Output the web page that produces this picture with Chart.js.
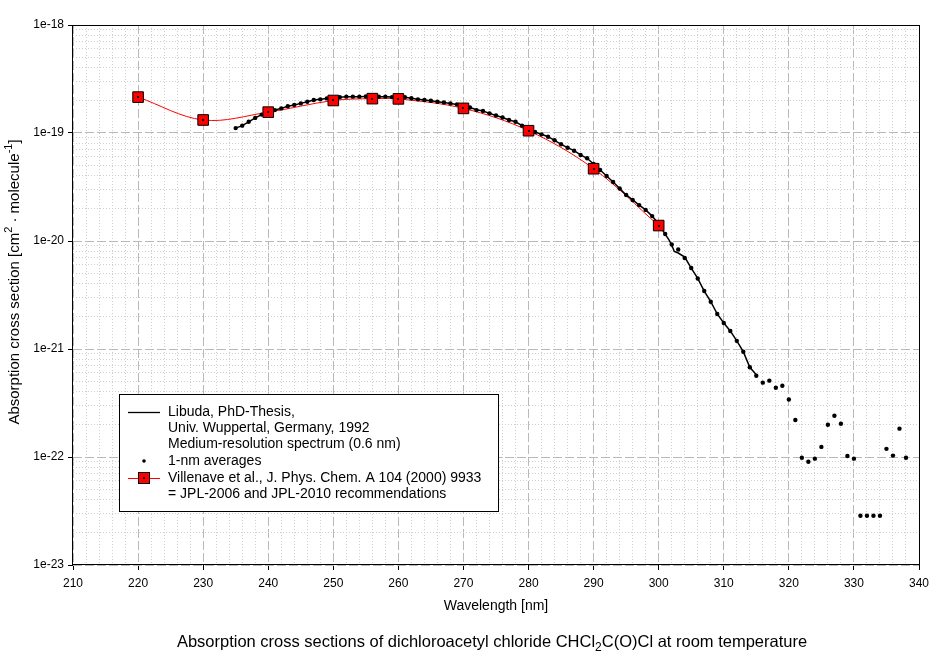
<!DOCTYPE html>
<html>
<head>
<meta charset="utf-8">
<title>Dichloroacetyl chloride absorption cross sections</title>
<script src="https://cdn.jsdelivr.net/npm/chart.js@4.4.1/dist/chart.umd.min.js"></script>
<style>
    html, body { margin: 0; padding: 0; background: #fff; }
    #chart { display: block; }
</style>
</head>
<body>
<canvas id="chart" width="944" height="660"></canvas>
<script>
/**
 * Absorption cross sections of CHCl2C(O)Cl
 * Log-scale spectrum drawn with Chart.js
 */

const FONT = '"Liberation Sans", Arial, sans-serif';

// Axis tick labels
const xTickLabels = [210, 220, 230, 240, 250, 260, 270, 280, 290, 300, 310, 320, 330, 340];
const yTickLabels = ['1e-23', '1e-22', '1e-21', '1e-20', '1e-19', '1e-18'];

// Villenave et al., J. Phys. Chem. A 104 (2000) 9933
const villenaveWl = [220, 230, 240, 250, 256, 260, 270, 280, 290, 300];
const villenaveSigma = [2.15e-19, 1.32e-19, 1.56e-19, 2.00e-19, 2.08e-19, 2.07e-19, 1.69e-19, 1.05e-19, 4.67e-20, 1.39e-20];

// Libuda, 1-nm averages
const avgWl = [
    235, 236, 237, 238, 239, 240, 241, 242, 243, 244, 245, 246, 247, 248, 249,
    250, 251, 252, 253, 254, 255, 256, 257, 258, 259, 260, 261, 262, 263, 264,
    265, 266, 267, 268, 269, 270, 271, 272, 273, 274, 275, 276, 277, 278, 279,
    280, 281, 282, 283, 284, 285, 286, 287, 288, 289, 290, 291, 292, 293, 294,
    295, 296, 297, 298, 299, 300, 301, 302, 303, 304, 305, 306, 307, 308, 309,
    310, 311, 312, 313, 314, 315, 316, 317, 318, 319, 320, 321, 322, 323, 324,
    325, 326, 327, 328, 329, 330, 331, 332, 333, 334, 335, 336, 337, 338
];
const avgSigma = [
    1.11e-19, 1.17e-19, 1.27e-19, 1.38e-19, 1.48e-19, 1.57e-19, 1.63e-19, 1.69e-19, 1.77e-19, 1.82e-19,
    1.88e-19, 1.95e-19, 2.02e-19, 2.05e-19, 2.09e-19, 2.11e-19, 2.14e-19, 2.17e-19, 2.17e-19, 2.17e-19,
    2.18e-19, 2.18e-19, 2.17e-19, 2.17e-19, 2.15e-19, 2.15e-19, 2.14e-19, 2.10e-19, 2.05e-19, 2.02e-19,
    1.99e-19, 1.95e-19, 1.92e-19, 1.88e-19, 1.84e-19, 1.78e-19, 1.72e-19, 1.63e-19, 1.60e-19, 1.52e-19,
    1.45e-19, 1.39e-19, 1.32e-19, 1.27e-19, 1.17e-19, 1.09e-19, 1.02e-19, 9.72e-20, 9.24e-20, 8.56e-20,
    7.86e-20, 7.31e-20, 6.86e-20, 6.26e-20, 5.83e-20, 5.16e-20, 4.54e-20, 4.00e-20, 3.52e-20, 3.06e-20,
    2.67e-20, 2.40e-20, 2.15e-20, 1.94e-20, 1.70e-20, 1.44e-20, 1.16e-20, 9.28e-21, 8.34e-21, 6.96e-21,
    5.62e-21, 4.50e-21, 3.44e-21, 2.74e-21, 2.11e-21, 1.74e-21, 1.47e-21, 1.19e-21, 9.44e-22, 6.77e-22,
    5.66e-22, 4.88e-22, 5.09e-22, 4.38e-22, 4.57e-22, 3.41e-22, 2.20e-22, 9.85e-23, 9.05e-23, 9.65e-23,
    1.24e-22, 1.99e-22, 2.41e-22, 2.03e-22, 1.02e-22, 9.65e-23, 2.86e-23, 2.86e-23, 2.86e-23, 2.86e-23,
    1.19e-22, 1.03e-22, 1.83e-22, 9.85e-23
];

// Libuda, medium-resolution spectrum (0.6 nm)
const libudaWl = [
    235, 236, 237, 238, 239, 240, 241, 242, 243, 244, 245, 246, 247, 248, 249,
    250, 251, 252, 253, 254, 255, 256, 257, 258, 259, 260, 261, 262, 263, 264,
    265, 266, 267, 268, 269, 270, 271, 272, 273, 274, 275, 276, 277, 278, 279,
    280, 281, 282, 283, 284, 285, 286, 287, 288, 289, 290, 291, 292, 293, 294,
    295, 296, 297, 298, 299, 300, 301, 301.6, 302, 302.4, 303, 304, 305, 306,
    307, 308, 309, 310, 311, 312, 313, 314, 315.2
];
const libudaSigma = [
    1.11e-19, 1.17e-19, 1.27e-19, 1.38e-19, 1.48e-19, 1.57e-19, 1.63e-19, 1.69e-19, 1.77e-19, 1.82e-19,
    1.88e-19, 1.95e-19, 2.02e-19, 2.05e-19, 2.09e-19, 2.11e-19, 2.14e-19, 2.17e-19, 2.17e-19, 2.17e-19,
    2.18e-19, 2.18e-19, 2.17e-19, 2.17e-19, 2.15e-19, 2.15e-19, 2.14e-19, 2.10e-19, 2.05e-19, 2.02e-19,
    1.99e-19, 1.95e-19, 1.92e-19, 1.88e-19, 1.84e-19, 1.78e-19, 1.72e-19, 1.64e-19, 1.60e-19, 1.52e-19,
    1.45e-19, 1.39e-19, 1.32e-19, 1.27e-19, 1.17e-19, 1.09e-19, 1.02e-19, 9.72e-20, 9.24e-20, 8.56e-20,
    7.86e-20, 7.31e-20, 6.86e-20, 6.26e-20, 5.83e-20, 5.16e-20, 4.54e-20, 4.00e-20, 3.52e-20, 3.06e-20,
    2.67e-20, 2.40e-20, 2.15e-20, 1.94e-20, 1.70e-20, 1.44e-20, 1.16e-20, 1.02e-20, 9.18e-21, 8.00e-21,
    7.74e-21, 7.11e-21, 5.62e-21, 4.50e-21, 3.44e-21, 2.74e-21, 2.11e-21, 1.74e-21, 1.47e-21, 1.19e-21,
    9.44e-22, 6.77e-22, 5.60e-22
];

// Text pieces
const legendLines = [
    'Libuda, PhD-Thesis,',
    'Univ. Wuppertal, Germany, 1992',
    'Medium-resolution spectrum (0.6 nm)',
    '1-nm averages',
    'Villenave et al., J. Phys. Chem. A 104 (2000) 9933',
    '= JPL-2006 and JPL-2010 recommendations'
];
const yTitleParts = [
    { text: 'Absorption cross section [cm' },
    { text: '2', sup: true },
    { text: ' \u00b7 molecule' },
    { text: '-1', sup: true },
    { text: ']' }
];
const captionParts = [
    { text: 'Absorption cross sections of dichloroacetyl chloride CHCl' },
    { text: '2', sub: true },
    { text: 'C(O)Cl at room temperature' }
];

const toPoints = (xs, ys) => xs.map((x, i) => ({ x: x, y: ys[i] }));

// grid positions: every 2 nm, and 1..9 per decade
const xGrid = [];
for (let v = xTickLabels[0]; v <= xTickLabels[xTickLabels.length - 1]; v += 2) xGrid.push(v);
const yDecades = yTickLabels.map(Number);
const yGrid = [];
yDecades.forEach((d, i) => {
    const last = i === yDecades.length - 1;
    for (let k = 1; k <= (last ? 1 : 9); k++) yGrid.push(d * k);
});

const isMajorX = v => xTickLabels.includes(v);
const isDecade = v => yDecades.some(d => Math.abs(v / d - 1) < 1e-9);

/**
 * Draw a line of text with sub/superscript parts, centred on (cx, cy)
 */
function drawRuns(ctx, runs, cx, cy, size) {
    const small = Math.round(size * 0.72);
    let total = 0;
    runs.forEach(r => {
        ctx.font = (r.sup || r.sub ? small : size) + 'px ' + FONT;
        r.w = ctx.measureText(r.text).width;
        total += r.w;
    });
    let x = cx - total / 2;
    ctx.textBaseline = 'middle';
    ctx.textAlign = 'left';
    ctx.fillStyle = '#000';
    runs.forEach(r => {
        ctx.font = (r.sup || r.sub ? small : size) + 'px ' + FONT;
        const dy = r.sup ? -size * 0.38 : (r.sub ? size * 0.32 : 0);
        ctx.fillText(r.text, x, cy + dy);
        x += r.w;
    });
}

const decorPlugin = {
    id: 'decor',
    afterDatasetsDraw(chart) {
        const ctx = chart.ctx;
        // little black dot in the middle of each Villenave square
        ctx.save();
        ctx.fillStyle = '#000';
        chart.getDatasetMeta(0).data.forEach(p => {
            ctx.fillRect(Math.round(p.x) - 1, Math.round(p.y) - 1, 2, 2);
        });
        ctx.restore();
    },
    afterDraw(chart) {
        const ctx = chart.ctx;
        const a = chart.chartArea;
        ctx.save();

        // frame
        ctx.strokeStyle = '#000';
        ctx.lineWidth = 1;
        ctx.strokeRect(Math.round(a.left) - 0.5, Math.round(a.top) + 0.5,
            Math.round(a.right - a.left) + 1, Math.round(a.bottom - a.top) - 1);

        // y axis title (rotated)
        ctx.save();
        ctx.translate(15, 282);
        ctx.rotate(-Math.PI / 2);
        drawRuns(ctx, yTitleParts, 0, 0, 15);
        ctx.restore();

        // caption
        drawRuns(ctx, captionParts, 492, 642, 16.5);

        // legend box
        const bx = 119.5, by = 394.5, bw = 379, bh = 117;
        ctx.fillStyle = '#fff';
        ctx.fillRect(bx, by, bw, bh);
        ctx.strokeStyle = '#000';
        ctx.strokeRect(bx, by, bw, bh);

        const rows = [412, 428, 444, 461, 478, 494];
        ctx.font = '14px ' + FONT;
        ctx.fillStyle = '#000';
        ctx.textBaseline = 'middle';
        ctx.textAlign = 'left';
        legendLines.forEach((t, i) => ctx.fillText(t, 168, rows[i]));

        // symbols
        ctx.lineWidth = 1.3;
        ctx.beginPath();
        ctx.moveTo(128, rows[0] + 0.5);
        ctx.lineTo(160, rows[0] + 0.5);
        ctx.stroke();

        ctx.beginPath();
        ctx.arc(144, rows[3], 1.8, 0, Math.PI * 2);
        ctx.fill();

        ctx.strokeStyle = '#ff0000';
        ctx.lineWidth = 1;
        ctx.beginPath();
        ctx.moveTo(128, rows[4] + 0.5);
        ctx.lineTo(160, rows[4] + 0.5);
        ctx.stroke();
        ctx.fillStyle = '#ff0000';
        ctx.fillRect(138.5, rows[4] - 5.5, 11, 11);
        ctx.strokeStyle = '#000';
        ctx.strokeRect(138.5, rows[4] - 5.5, 11, 11);
        ctx.fillStyle = '#000';
        ctx.fillRect(143, rows[4] - 1, 2, 2);

        ctx.restore();
    }
};

new Chart(document.getElementById('chart'), {
    type: 'scatter',
    data: {
        datasets: [
            {
                label: 'Villenave et al. (squares)',
                data: toPoints(villenaveWl, villenaveSigma),
                showLine: false,
                pointStyle: 'rect',
                pointRadius: 7.5,
                backgroundColor: '#ff0000',
                borderColor: '#000',
                borderWidth: 1
            },
            {
                label: '1-nm averages',
                data: toPoints(avgWl, avgSigma),
                showLine: false,
                pointStyle: 'circle',
                pointRadius: 2.2,
                backgroundColor: '#000',
                borderColor: '#000',
                borderWidth: 0
            },
            {
                label: 'Libuda, PhD-Thesis',
                data: toPoints(libudaWl, libudaSigma),
                showLine: true,
                pointRadius: 0,
                borderColor: '#000',
                borderWidth: 1.5,
                tension: 0
            },
            {
                label: 'Villenave et al. (curve)',
                data: toPoints(villenaveWl, villenaveSigma),
                showLine: true,
                pointRadius: 0,
                borderColor: '#ff0000',
                borderWidth: 1,
                tension: 0.35
            }
        ]
    },
    options: {
        responsive: false,
        animation: false,
        layout: {
            padding: { top: 25, right: 25, left: 0, bottom: 0 }
        },
        plugins: {
            legend: { display: false },
            tooltip: { enabled: false },
            title: { display: false }
        },
        scales: {
            x: {
                type: 'linear',
                position: 'bottom',
                min: 210,
                max: 340,
                afterBuildTicks: scale => {
                    scale.ticks = xGrid.map(v => ({ value: v }));
                },
                afterFit: scale => {
                    scale.height = 95;
                },
                ticks: {
                    autoSkip: false,
                    maxRotation: 0,
                    padding: 6,
                    color: '#000',
                    font: { family: FONT, size: 12 },
                    callback: value => (isMajorX(value) ? String(value) : '')
                },
                grid: {
                    color: ctx => (ctx.tick && isMajorX(ctx.tick.value) ? '#b9b9b9' : '#cfcfcf'),
                    lineWidth: 1,
                    tickLength: 5,
                    tickColor: ctx => (ctx.tick && isMajorX(ctx.tick.value) ? '#000' : 'rgba(0,0,0,0)'),
                    tickBorderDash: []
                },
                border: {
                    display: false,
                    dash: ctx => (ctx.tick ? (isMajorX(ctx.tick.value) ? [9, 3] : [1, 2]) : [])
                },
                title: {
                    display: true,
                    text: 'Wavelength [nm]',
                    color: '#000',
                    font: { family: FONT, size: 14 },
                    padding: { top: 0, bottom: 45 }
                }
            },
            y: {
                type: 'logarithmic',
                min: yDecades[0],
                max: yDecades[yDecades.length - 1],
                afterBuildTicks: scale => {
                    scale.ticks = yGrid.map(v => ({ value: v }));
                },
                afterFit: scale => {
                    scale.width = 73;
                },
                ticks: {
                    autoSkip: false,
                    padding: 4,
                    color: '#000',
                    font: { family: FONT, size: 12 },
                    callback: value => {
                        const i = yDecades.findIndex(d => Math.abs(value / d - 1) < 1e-9);
                        return i >= 0 ? yTickLabels[i] : '';
                    }
                },
                grid: {
                    color: ctx => (ctx.tick && isDecade(ctx.tick.value) ? '#b9b9b9' : '#cfcfcf'),
                    lineWidth: 1,
                    tickLength: 5,
                    tickColor: ctx => (ctx.tick && isDecade(ctx.tick.value) ? '#000' : 'rgba(0,0,0,0)'),
                    tickBorderDash: []
                },
                border: {
                    display: false,
                    dash: ctx => (ctx.tick ? (isDecade(ctx.tick.value) ? [9, 3] : [1, 2]) : [])
                },
                title: { display: false }
            }
        }
    },
    plugins: [decorPlugin]
});
</script>
</body>
</html>
